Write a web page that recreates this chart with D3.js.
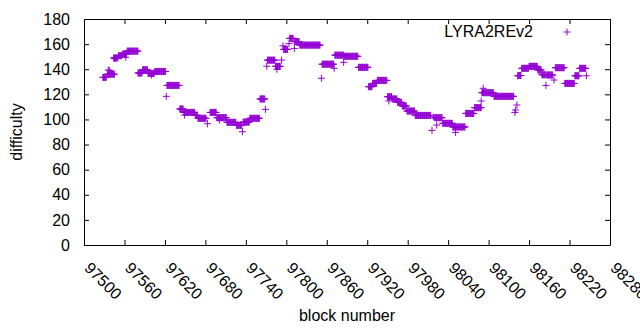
<!DOCTYPE html>
<html>
<head>
<meta charset="utf-8">
<script src="https://cdn.jsdelivr.net/npm/d3@7"></script>
<style>
    body { margin: 0; background: #fff; }
    svg text { font-family: "Liberation Sans", Arial, sans-serif; fill: #000; }
</style>
</head>
<body>
<svg id="chart" width="640" height="330"></svg>
<script>
const seriesName = 'LYRA2REv2';

// runs of consecutive blocks sharing one difficulty
const runStart = [97528, 97535, 97544, 97551, 97557, 97564, 97580, 97587, 97595, 97605,
    97623, 97642, 97648, 97665, 97669, 97687, 97697, 97712, 97726, 97736,
    97746, 97761, 97772, 97784, 97796, 97805, 97812, 97820, 97853, 97872,
    97886, 97907, 97922, 97928, 97935, 97950, 97957, 97965, 97972, 97979,
    97991, 98020, 98032, 98047, 98066, 98079, 98090, 98108, 98144, 98149,
    98160, 98173, 98179, 98186, 98199, 98213, 98228, 98235];
const runEnd = [97533, 97545, 97550, 97556, 97563, 97580, 97586, 97594, 97604, 97621,
    97641, 97647, 97664, 97668, 97681, 97696, 97711, 97725, 97734, 97745,
    97760, 97768, 97783, 97791, 97802, 97810, 97819, 97850, 97870, 97885,
    97906, 97921, 97927, 97934, 97949, 97956, 97964, 97971, 97978, 97990,
    98014, 98031, 98046, 98065, 98078, 98089, 98107, 98137, 98148, 98159,
    98172, 98178, 98184, 98195, 98212, 98227, 98234, 98244];
const runDiff = [133.5, 136, 149, 150.8, 152, 154.4, 137, 139.6, 136.7, 138.2,
    127.1, 108.3, 105.6, 103.3, 100.9, 105.6, 101.4, 97.7, 95.3, 97.9,
    100.9, 116.3, 147.2, 142.3, 155.8, 164.6, 162, 159.2, 144, 151.2,
    150.3, 141.5, 126.1, 128.7, 131.1, 118.1, 116.3, 113.6, 110.7, 106.7,
    103.2, 101.4, 96.9, 94, 104.8, 109.4, 121.3, 118.4, 135, 140.7,
    142.3, 139.4, 135.6, 135.4, 141.2, 128.7, 134.8, 140.7];

// single points off the runs
const dotBlock = [97536, 97538, 97546, 97562, 97600, 97622, 97649, 97683, 97701, 97735,
    97769, 97771, 97786, 97793, 97795, 97804, 97812, 97852, 97871, 97885,
    97952, 98016, 98018, 98023, 98051, 98089, 98092, 98139, 98140, 98142,
    98143, 98185, 98197, 98245];
const dotDiff = [139.4, 139, 148.4, 149.5, 135.4, 118.4, 103.5, 96.6, 99.5, 90.2,
    108, 142.4, 140, 147.3, 158.6, 160.4, 156.6, 132.8, 140.7, 145.5,
    114.7, 91.3, 102, 95.5, 89.7, 114.7, 124.8, 105.6, 107.5, 111.5,
    134.6, 127.1, 131.4, 134.8];

const xTicks = [97500, 97560, 97620, 97680, 97740, 97800, 97860, 97920, 97980,
    98040, 98100, 98160, 98220, 98280];
const yTicks = [0, 20, 40, 60, 80, 100, 120, 140, 160, 180];

const color = '#9400d3';
const svg = d3.select('#chart');

let x = d3.scaleLinear().domain([97500, 98280]).range([84, 610]);
let y = d3.scaleLinear().domain([0, 180]).range([245, 19]);

let points = [];
runStart.forEach(function (s, i) {
    for (let b = s; b <= runEnd[i]; b++) {
        points.push({ block: b, diff: runDiff[i] });
    }
});
dotBlock.forEach(function (b, i) {
    points.push({ block: b, diff: dotDiff[i] });
});

// axes, ticks pointing inward on all four sides
svg.append('g')
    .attr('transform', 'translate(0,245)')
    .call(d3.axisBottom(x).tickValues(xTicks).tickSizeInner(-5).tickSizeOuter(0).tickFormat(d3.format('d')))
    .call(styleAxis)
    .selectAll('text')
    .attr('x', 0).attr('y', 0).attr('dy', 0)
    .attr('text-anchor', 'start')
    .attr('transform', 'translate(-1,24) rotate(45)');

svg.append('g')
    .attr('transform', 'translate(0,19)')
    .call(d3.axisTop(x).tickValues(xTicks).tickSizeInner(-5).tickSizeOuter(0).tickFormat(''))
    .call(styleAxis);

svg.append('g')
    .attr('transform', 'translate(84,0)')
    .call(d3.axisLeft(y).tickValues(yTicks).tickSizeInner(-5).tickSizeOuter(0).tickPadding(14))
    .call(styleAxis);

svg.append('g')
    .attr('transform', 'translate(610,0)')
    .call(d3.axisRight(y).tickValues(yTicks).tickSizeInner(-5).tickSizeOuter(0).tickFormat(''))
    .call(styleAxis);

function styleAxis(g) {
    g.attr('font-size', 16).attr('font-family', null);
    g.selectAll('line').attr('stroke', '#000');
    g.select('.domain').attr('stroke', '#000');
}

// the points, gnuplot style "+"
svg.append('g')
    .selectAll('path')
    .data(points)
    .join('path')
    .attr('d', plus)
    .attr('transform', function (d) {
        return `translate(${x(d.block)},${y(d.diff)})`;
    })
    .attr('fill', 'none')
    .attr('stroke', color)
    .attr('stroke-width', 1);

function plus() {
    return 'M-3.5,0H3.5M0,-3.5V3.5';
}

// key
svg.append('text')
    .attr('x', 533).attr('y', 37)
    .attr('text-anchor', 'end')
    .attr('font-size', 16)
    .text(seriesName);
svg.append('path')
    .attr('d', plus)
    .attr('transform', 'translate(567,32)')
    .attr('fill', 'none')
    .attr('stroke', color);

// axis titles
svg.append('text')
    .attr('x', 347).attr('y', 321)
    .attr('text-anchor', 'middle')
    .attr('font-size', 16)
    .text('block number');
svg.append('text')
    .attr('transform', 'translate(22,132) rotate(-90)')
    .attr('text-anchor', 'middle')
    .attr('font-size', 16)
    .text('difficulty');
</script>
</body>
</html>
